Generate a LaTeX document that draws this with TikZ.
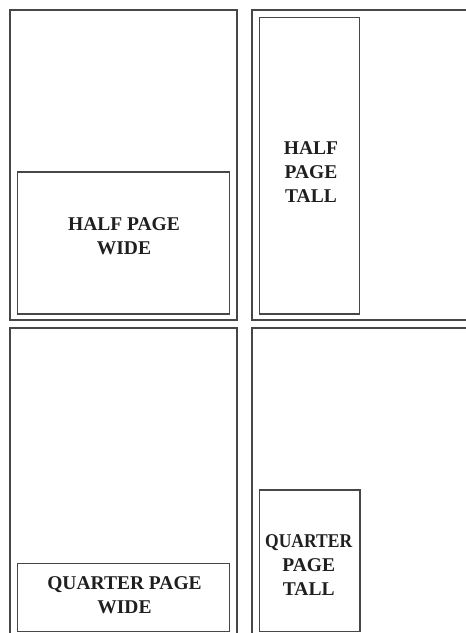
\documentclass[tikz,border=0pt]{standalone}
\usepackage{fontspec}
\setmainfont{Liberation Serif}
\usepackage{graphicx}
\usepackage{xcolor}
\usepackage{tikz}

\begin{document}
\begin{tikzpicture}[x=1pt,y=-1pt,
  pagebox/.style={draw=black!72,line width=1.6pt,inner sep=0pt},
  adbox/.style={draw=black!72,line width=1.2pt,inner sep=0pt},
  lbl/.style={align=center,inner sep=0pt,text=black!88,
              font=\fontsize{19.5}{24}\selectfont\bfseries}]
  \clip (0,0) rectangle (466,633);
  % the four pages
  \node[pagebox,minimum width=227pt,minimum height=310pt] (pageA) at (123.5,165) {};
  \node[pagebox,minimum width=228pt,minimum height=310pt] (pageB) at (366,165) {};
  \node[pagebox,minimum width=227pt,minimum height=310pt] (pageC) at (123.5,483) {};
  \node[pagebox,minimum width=228pt,minimum height=310pt] (pageD) at (366,483) {};

  % ad spaces
  \node[adbox,minimum width=212pt,minimum height=142pt] (halfwide) at (123.7,243) {};
  \node[adbox,minimum width=100pt,minimum height=296.7pt] (halftall) at (309.3,165.6) {};
  \node[adbox,minimum width=212pt,minimum height=68.4pt] (quartwide) at (123.7,597.5) {};
  \node[adbox,minimum width=100.7pt,minimum height=141.5pt] (quarttall) at (309.6,560.7) {};

  \node[lbl] (halfwidetxt) at (124,236) {HALF PAGE\\WIDE};
  \node[lbl] (halftalltxt) at (311,172) {HALF\\PAGE\\TALL};
  \node[lbl] (quartwidetxt) at (124.5,595) {QUARTER PAGE\\WIDE};
  \node[lbl] (quarttalltxt) at (308.7,565) {\scalebox{0.9}[1]{QUARTER}\\PAGE\\TALL};
\end{tikzpicture}
\end{document}
